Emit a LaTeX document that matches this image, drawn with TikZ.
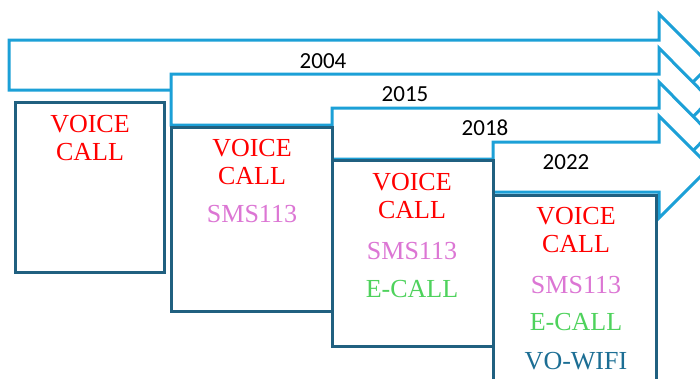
\documentclass[tikz,border=0pt]{standalone}
\usepackage{fontspec}
\setmainfont{Liberation Serif}
\newfontfamily\yearfont{Carlito}
\definecolor{arrowblue}{RGB}{28,160,215}
\definecolor{boxblue}{RGB}{32,96,128}
\definecolor{smspink}{RGB}{220,118,212}
\definecolor{ecallgreen}{RGB}{78,210,92}
\definecolor{wifiblue}{RGB}{28,110,148}
\begin{document}
\begin{tikzpicture}[x=1pt,y=-1pt,
  era/.style={draw=arrowblue,line width=3pt,fill=white,line join=miter},
  featbox/.style={draw=boxblue,line width=3pt,fill=white},
  yearlbl/.style={font=\yearfont\fontsize{23}{26}\selectfont,text=black,inner sep=0pt},
  feat/.style={font=\fontsize{26}{28}\selectfont,inner sep=0pt}]
\useasboundingbox (0,0) rectangle (700,378);
\clip (0,0) rectangle (700,378);

% timeline arrows: left x, shaft top, shaft bottom
\foreach \l/\t/\b in {9/40/90, 171/74/125, 332/108/159, 493/142/192}{
  \draw[era] (\l,\t) -- (659,\t) -- (659,\t-26) -- (710,{(\t+\b)/2})
    -- (659,\b+26) -- (659,\b) -- (\l,\b) -- cycle;
}

% feature boxes
\draw[featbox] (15,102) rectangle (164,272);
\draw[featbox] (171,127) rectangle (332,311);
\draw[featbox] (332,160) rectangle (493,346);
\draw[featbox] (493,195) rectangle (656,395);

% year labels
\node[yearlbl] (y2004) at (323,61) {2004};
\node[yearlbl] (y2015) at (405,94) {2015};
\node[yearlbl] (y2018) at (485,128) {2018};
\node[yearlbl] (y2022) at (566,162) {2022};

% 2004
\node[feat,text=red] (v1) at (90,124) {VOICE};
\node[feat,text=red] (c1) at (90,152) {CALL};
% 2015
\node[feat,text=red] (v2) at (252,148) {VOICE};
\node[feat,text=red] (c2) at (252,176) {CALL};
\node[feat,text=smspink] (s2) at (252,214) {SMS113};
% 2018
\node[feat,text=red] (v3) at (412,182) {VOICE};
\node[feat,text=red] (c3) at (412,210) {CALL};
\node[feat,text=smspink] (s3) at (412,251) {SMS113};
\node[feat,text=ecallgreen] (e3) at (412,289) {E-CALL};
% 2022
\node[feat,text=red] (v4) at (576,216) {VOICE};
\node[feat,text=red] (c4) at (576,244) {CALL};
\node[feat,text=smspink] (s4) at (576,285) {SMS113};
\node[feat,text=ecallgreen] (e4) at (576,322) {E-CALL};
\node[feat,text=wifiblue] (w4) at (576,361) {VO-WIFI};
\end{tikzpicture}
\end{document}
